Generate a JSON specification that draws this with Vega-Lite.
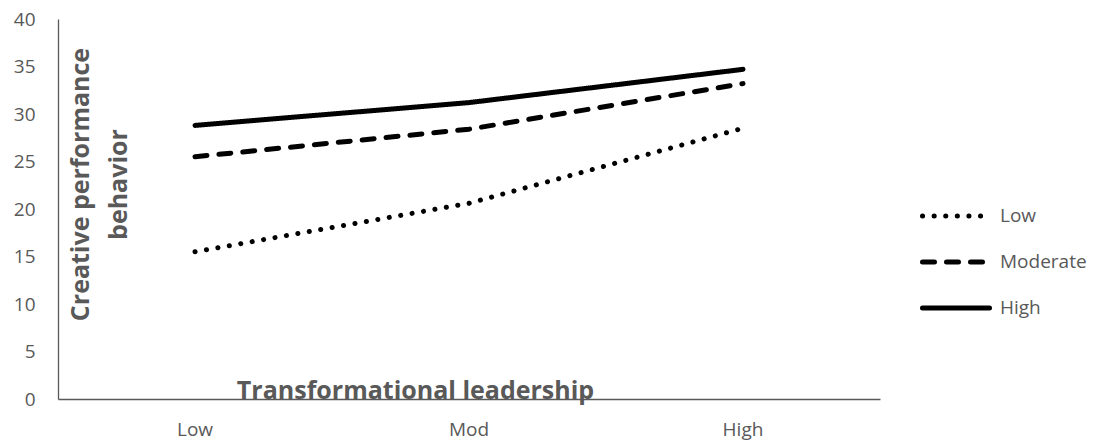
{
  "$schema": "https://vega.github.io/schema/vega-lite/v6.json",
  "autosize": "none",
  "width": 822,
  "height": 380,
  "padding": {"left": 58, "top": 19, "right": 223, "bottom": 42},
  "background": "white",
  "config": {"view": {"stroke": null}, "font": "Open Sans"},
  "data": {
    "values": [
      {"leadership": "Low", "moderator": "Low", "value": 15.5},
      {"leadership": "Mod", "moderator": "Low", "value": 20.6},
      {"leadership": "High", "moderator": "Low", "value": 28.5},
      {"leadership": "Low", "moderator": "Moderate", "value": 25.5},
      {"leadership": "Mod", "moderator": "Moderate", "value": 28.4},
      {"leadership": "High", "moderator": "Moderate", "value": 33.2},
      {"leadership": "Low", "moderator": "High", "value": 28.8},
      {"leadership": "Mod", "moderator": "High", "value": 31.2},
      {"leadership": "High", "moderator": "High", "value": 34.7}
    ]
  },
  "mark": {"type": "line", "color": "black", "strokeWidth": 5, "strokeCap": "round", "strokeJoin": "round"},
  "encoding": {
    "x": {
      "field": "leadership",
      "type": "ordinal",
      "sort": ["Low", "Mod", "High"],
      "scale": {"type": "band", "paddingInner": 0, "paddingOuter": 0},
      "axis": {
        "title": "Transformational leadership",
        "titleFont": "Open Sans",
        "titleFontSize": 25,
        "titleFontWeight": "bold",
        "titleColor": "#595959",
        "titleX": 357,
        "titleY": -1,
        "titleAlign": "center",
        "titleBaseline": "alphabetic",
        "labelAngle": 0,
        "labelFontSize": 19,
        "labelColor": "#595959",
        "labelPadding": 21,
        "ticks": false,
        "domainColor": "#595959",
        "domainWidth": 1.3
      }
    },
    "y": {
      "field": "value",
      "type": "quantitative",
      "scale": {"domain": [0, 40], "nice": false},
      "axis": {
        "title": ["Creative performance", "behavior"],
        "titleFont": "Open Sans",
        "titleFontSize": 25,
        "titleFontWeight": "bold",
        "titleColor": "#595959",
        "titleAngle": -90,
        "titleX": 22,
        "titleY": 165,
        "titleAlign": "center",
        "titleBaseline": "middle",
        "titleLineHeight": 38,
        "values": [0, 5, 10, 15, 20, 25, 30, 35, 40],
        "grid": false,
        "ticks": false,
        "labelFontSize": 19,
        "labelColor": "#595959",
        "labelPadding": 23,
        "domainColor": "#595959",
        "domainWidth": 1.3
      }
    },
    "strokeDash": {
      "field": "moderator",
      "type": "nominal",
      "scale": {
        "domain": ["Low", "Moderate", "High"],
        "range": [[0.1, 11.5], [12, 12], [1, 0]]
      },
      "legend": {
        "title": null,
        "orient": "none",
        "legendX": 862,
        "legendY": 161,
        "padding": 0,
        "symbolType": "stroke",
        "symbolSize": 4489,
        "symbolStrokeWidth": 5,
        "symbolStrokeColor": "black",
        "rowPadding": -23,
        "labelFontSize": 19,
        "labelColor": "#595959",
        "labelOffset": 8,
        "encode": {"symbols": {"update": {"strokeCap": {"value": "round"}}}}
      }
    }
  }
}
